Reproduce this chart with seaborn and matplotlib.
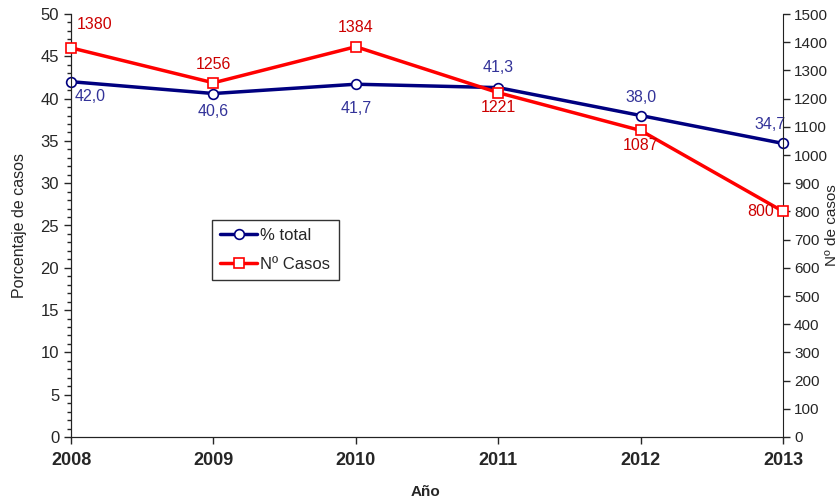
import pandas as pd
import numpy as np
import matplotlib.pyplot as plt
import seaborn as sns
from matplotlib.ticker import MultipleLocator, NullLocator

years = [2008, 2009, 2010, 2011, 2012, 2013]
pct_total = [42.0, 40.6, 41.7, 41.3, 38.0, 34.7]
n_casos = [1380, 1256, 1384, 1221, 1087, 800]
pct_labels = ['42,0', '40,6', '41,7', '41,3', '38,0', '34,7']
casos_labels = ['1380', '1256', '1384', '1221', '1087', '800']

sns.set_style('ticks')
plt.rcParams['font.family'] = ['Liberation Sans', 'DejaVu Sans']

df = pd.DataFrame({'year': years, 'pct': pct_total, 'casos': n_casos})

fig = plt.figure(figsize=(8.39, 5.04), dpi=100)
ax = fig.add_axes([71/839, 1 - 437/504, (783 - 71)/839, (437 - 14)/504])
ax2 = ax.twinx()

blue = '#000080'
red = '#ff0000'

sns.lineplot(data=df, x='year', y='pct', ax=ax, color=blue, lw=2.5,
             marker='o', markersize=7, markerfacecolor='white',
             markeredgecolor=blue, markeredgewidth=1.2, label='% total', legend=False,
             clip_on=False, zorder=3)
sns.lineplot(data=df, x='year', y='casos', ax=ax2, color=red, lw=2.5,
             marker='s', markersize=6.5, markerfacecolor='white',
             markeredgecolor=red, markeredgewidth=1.2, label='Nº Casos', legend=False,
             clip_on=False, zorder=3)

ax.set_xlim(2008, 2013)
ax.set_ylim(0, 50)
ax2.set_ylim(0, 1500)
ax.set_xticks(years)
ax.set_xticklabels([str(y) for y in years], fontsize=13, fontweight='bold')
ax.xaxis.set_minor_locator(NullLocator())
ax.yaxis.set_major_locator(MultipleLocator(5))
ax.yaxis.set_minor_locator(MultipleLocator(1))
ax2.yaxis.set_major_locator(MultipleLocator(100))
ax2.yaxis.set_minor_locator(NullLocator())
ax.tick_params(axis='y', labelsize=12, length=5, width=1)
ax.tick_params(axis='y', which='minor', length=3, width=1)
ax.tick_params(axis='x', length=5, width=1, pad=6)
ax2.tick_params(axis='y', labelsize=11, length=5, width=1, pad=3)

for a in (ax, ax2):
    a.spines['top'].set_visible(False)
    for s in a.spines.values():
        s.set_color('#222222')
ax.spines['right'].set_visible(False)

ax.set_xlabel('')
ax.set_ylabel('Porcentaje de casos', fontsize=11.5, labelpad=10)
ax2.set_ylabel('')
fig.text(425/839, 1 - 492/504, 'Año', fontsize=11, fontweight='bold', ha='center', va='center')
fig.text(832/839, 1 - 225/504, 'Nº de casos', fontsize=11, rotation=90, ha='center', va='center')

pct_off = [(19, -15), (0, -18), (0, -24), (0, 20), (0, 18), (-13, 19)]
cas_off = [(24, 23), (0, 18), (0, 19), (0, -15), (0, -15), (-22, 0)]
for x, y, t, o in zip(years, pct_total, pct_labels, pct_off):
    ax.annotate(t, (x, y), xytext=o, textcoords='offset pixels', ha='center',
                va='center', color='#333399', fontsize=11.5)
for x, y, t, o in zip(years, n_casos, casos_labels, cas_off):
    ax2.annotate(t, (x, y), xytext=o, textcoords='offset pixels', ha='center',
                 va='center', color='#cc0000', fontsize=11.5)

h1, l1 = ax.get_legend_handles_labels()
h2, l2 = ax2.get_legend_handles_labels()
leg = ax2.legend(h1 + h2, l1 + l2, loc='upper left', bbox_to_anchor=(212/839, 1 - 220/504),
                 bbox_transform=fig.transFigure, fontsize=12, frameon=True, fancybox=False,
                 edgecolor='black', handlelength=2.2, borderpad=0.5, labelspacing=0.8,
                 handletextpad=0.2, borderaxespad=0)
leg.get_frame().set_linewidth(1)

fig.savefig('out.png', dpi=100)
